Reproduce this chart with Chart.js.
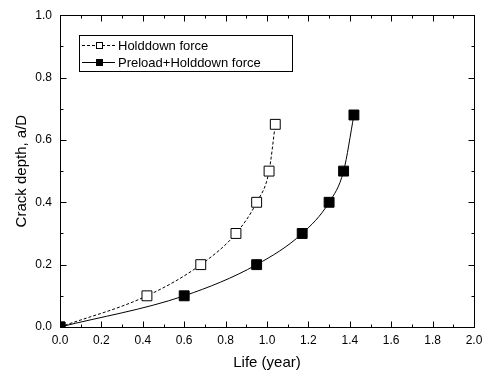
<!DOCTYPE html>
<html>
<head>
<meta charset="utf-8">
<script src="https://cdn.jsdelivr.net/npm/chart.js@4/dist/chart.umd.min.js"></script>
<style>
  html, body { margin: 0; padding: 0; background: #fff; }
  #wrap { width: 490px; height: 374px; }
</style>
</head>
<body>
<div id="wrap"><canvas id="chartgraph"></canvas></div>
<script>
// values
var lifeHold  = [0, 0.42, 0.68, 0.85, 0.95, 1.01, 1.04];
var depthHold = [0, 0.10, 0.20, 0.30, 0.40, 0.50, 0.65];
var lifePre   = [0, 0.60, 0.95, 1.17, 1.30, 1.37, 1.42];
var depthPre  = [0, 0.10, 0.20, 0.30, 0.40, 0.50, 0.68];
var seriesNames = ['Holddown force', 'Preload+Holddown force'];

var FONT = 'Liberation Sans, Arial, sans-serif';

function toPoints(xs, ys) {
  var out = [];
  for (var i = 0; i < xs.length; i++) out.push({x: xs[i], y: ys[i]});
  return out;
}

// frame, inward ticks (major 0.2 / minor 0.1) on all four sides, and the legend box
var framePlugin = {
  id: 'frame',
  afterDraw: function(chart) {
    var ctx = chart.ctx;
    var a = chart.chartArea;
    var xs = chart.scales.x, ys = chart.scales.y;
    var L = Math.round(a.left) + 0.5, R = Math.round(a.right) + 0.5;
    var T = Math.round(a.top) + 0.5, B = Math.round(a.bottom) + 0.5;
    ctx.save();
    ctx.strokeStyle = '#000';
    ctx.lineWidth = 1;
    ctx.strokeRect(L, T, R - L, B - T);

    ctx.beginPath();
    for (var i = 0; i <= 20; i++) {
      var v = i / 10;
      var len = (i % 2 === 0) ? 6 : 3;
      var px = Math.round(xs.getPixelForValue(v)) + 0.5;
      ctx.moveTo(px, B); ctx.lineTo(px, B - len);
      ctx.moveTo(px, T); ctx.lineTo(px, T + len);
    }
    for (var j = 0; j <= 10; j++) {
      var w = j / 10;
      var len2 = (j % 2 === 0) ? 6 : 3;
      var py = Math.round(ys.getPixelForValue(w)) + 0.5;
      ctx.moveTo(L, py); ctx.lineTo(L + len2, py);
      ctx.moveTo(R, py); ctx.lineTo(R - len2, py);
    }
    ctx.stroke();

    // legend
    var bx = 79.5, by = 35.5, bw = 213, bh = 36;
    ctx.strokeRect(bx, by, bw, bh);
    ctx.font = '13px ' + FONT;
    ctx.textBaseline = 'middle';
    ctx.fillStyle = '#000';
    var rows = [45, 62];
    chart.data.datasets.forEach(function(ds, k) {
      var y = rows[k] + 0.5;
      ctx.beginPath();
      ctx.setLineDash(ds.borderDash || []);
      ctx.moveTo(82, y); ctx.lineTo(115, y);
      ctx.stroke();
      ctx.setLineDash([]);
      ctx.fillStyle = ds.pointBackgroundColor;
      ctx.fillRect(96.5, y - 3, 6, 6);
      ctx.strokeRect(96.5, y - 3, 6, 6);
      ctx.fillStyle = '#000';
      ctx.fillText(ds.label, 118, rows[k] + 1);
    });
    ctx.restore();
  }
};

var ctx = document.getElementById('chartgraph').getContext('2d');

var chart = new Chart(ctx, {
  type: 'scatter',
  data: {
    datasets: [{
      label: seriesNames[0],
      data: toPoints(lifeHold, depthHold),
      order: 1,
      showLine: true,
      borderColor: '#000',
      borderWidth: 1,
      borderDash: [3, 2],
      cubicInterpolationMode: 'monotone',
      pointStyle: 'rect',
      pointRadius: 7,
      pointBorderWidth: 1,
      pointBorderColor: '#000',
      pointBackgroundColor: '#fff'
    }, {
      label: seriesNames[1],
      data: toPoints(lifePre, depthPre),
      order: 0,
      showLine: true,
      borderColor: '#000',
      borderWidth: 1,
      cubicInterpolationMode: 'monotone',
      pointStyle: 'rect',
      pointRadius: 7,
      pointBorderWidth: 1,
      pointBorderColor: '#000',
      pointBackgroundColor: '#000'
    }]
  },
  options: {
    responsive: true,
    maintainAspectRatio: false,
    animation: false,
    events: [],
    layout: { padding: { top: 13, right: 16, left: 0, bottom: 0 } },
    plugins: {
      legend: { display: false },
      tooltip: { enabled: false }
    },
    scales: {
      x: {
        type: 'linear',
        min: 0, max: 2,
        afterFit: function(s) { s.height = 47; },
        grid: { display: false, drawTicks: false },
        border: { display: false },
        ticks: {
          stepSize: 0.2,
          padding: 6,
          color: '#000',
          font: { family: FONT, size: 12 },
          callback: function(v) { return v.toFixed(1); }
        },
        title: {
          display: true,
          text: 'Life (year)',
          color: '#000',
          font: { family: FONT, size: 15 },
          padding: { top: 0, bottom: 2 }
        }
      },
      y: {
        type: 'linear',
        min: 0, max: 1,
        afterFit: function(s) { s.width = 60; },
        grid: { display: false, drawTicks: false },
        border: { display: false },
        ticks: {
          stepSize: 0.2,
          padding: 8,
          color: '#000',
          font: { family: FONT, size: 12 },
          callback: function(v) { return v.toFixed(1); }
        },
        title: {
          display: true,
          text: 'Crack depth, a/D',
          color: '#000',
          font: { family: FONT, size: 15 },
          padding: { top: 13, bottom: 0 }
        }
      }
    }
  },
  plugins: [framePlugin]
});
</script>
</body>
</html>
